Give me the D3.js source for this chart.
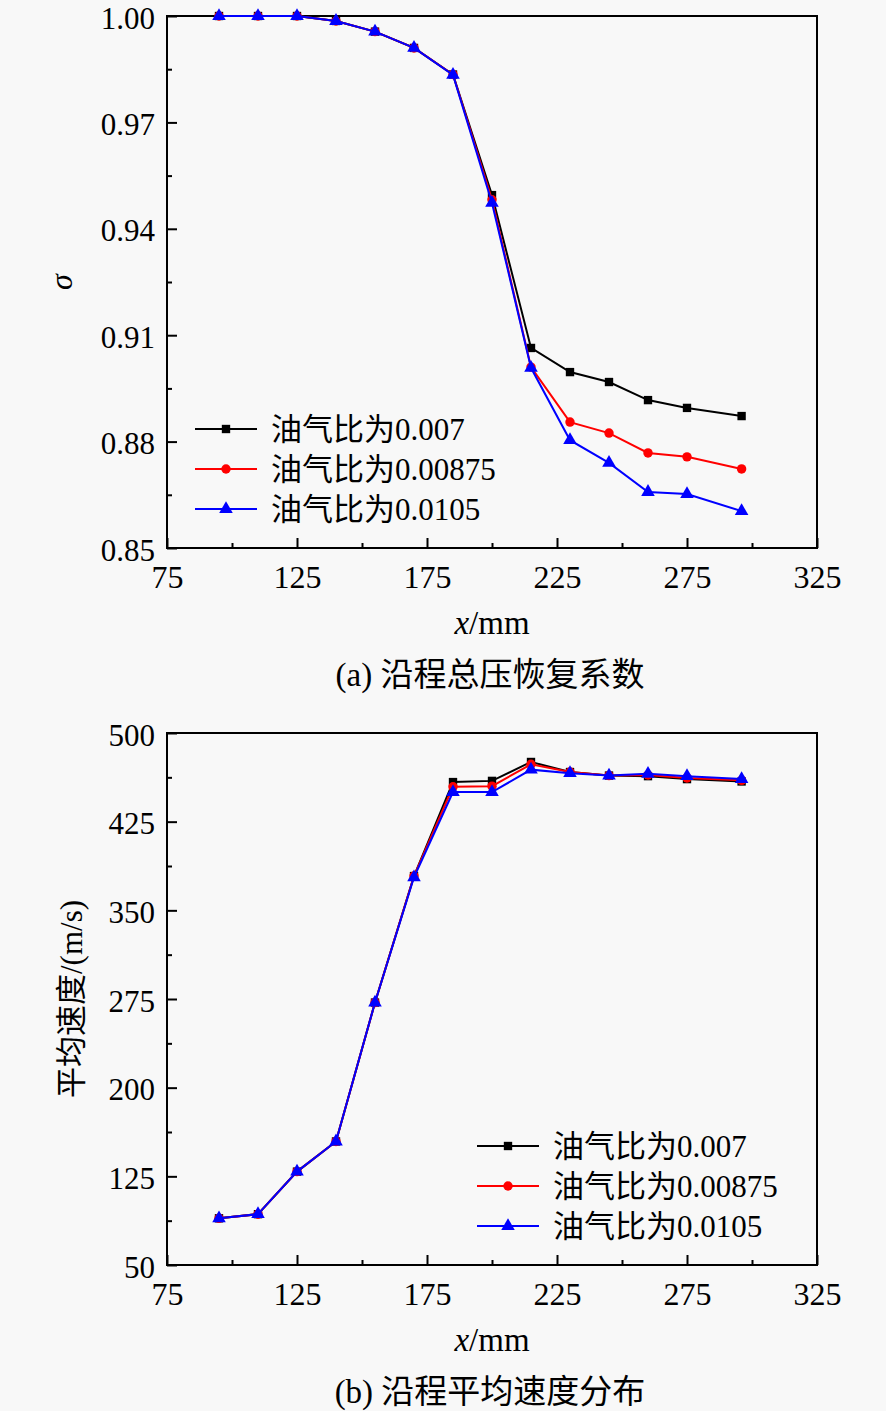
<!DOCTYPE html>
<html>
<head>
<meta charset="utf-8">
<script src="https://cdn.jsdelivr.net/npm/d3@7"></script>
<style>
  body { margin: 0; background: #f8f8f8; }
  svg { display: block; }
</style>
</head>
<body>
<div id="chart"></div>
<script>
// positions along the duct, mm
const xValues = [95, 110, 125, 140, 155, 170, 185, 200, 215, 230, 245, 260, 275, 296];

const seriesNames = ["油气比为0.007", "油气比为0.00875", "油气比为0.0105"];

// (a) total pressure recovery
const sigma007   = [1.0, 1.0, 1.0, 0.9986, 0.9956, 0.991, 0.9835, 0.9495, 0.9064, 0.8996, 0.8968, 0.8917, 0.8895, 0.8872];
const sigma00875 = [1.0, 1.0, 1.0, 0.9986, 0.9956, 0.991, 0.9835, 0.9482, 0.9010, 0.8855, 0.8824, 0.8768, 0.8757, 0.8723];
const sigma0105  = [1.0, 1.0, 1.0, 0.9986, 0.9956, 0.991, 0.9834, 0.9473, 0.9008, 0.8804, 0.8740, 0.8658, 0.8652, 0.8604];

// (b) mean velocity, m/s
const speed007   = [89.5, 93, 129, 154.5, 272, 379, 458.5, 459.5, 475.5, 467, 464, 463.5, 461, 459];
const speed00875 = [89.5, 93, 129, 154.5, 272, 379, 454.5, 455, 473.5, 467, 464, 464.5, 462, 460];
const speed0105  = [89.5, 93, 129, 154.5, 272, 378, 450, 450, 469, 466, 464, 465.5, 463.5, 461];

const xTicks = [75, 125, 175, 225, 275, 325];
const xMinor = [100, 150, 200, 250, 300];
const sigmaTicks = [0.85, 0.88, 0.91, 0.94, 0.97, 1.00];
const sigmaMinor = [0.865, 0.895, 0.925, 0.955, 0.985];
const speedTicks = [50, 125, 200, 275, 350, 425, 500];
const speedMinor = [87.5, 162.5, 237.5, 312.5, 387.5, 462.5];

const colors = ["#000000", "#ff0000", "#0000ff"];
const shapes = [d3.symbolSquare, d3.symbolCircle, d3.symbolTriangle];
const shapeSizes = [70, 70, 80];

const FONT = "'Liberation Serif', 'Times New Roman', 'Noto Sans CJK SC', serif";

const svg = d3.select("#chart").append("svg")
    .attr("width", 886)
    .attr("height", 1411)
    .style("font-family", FONT);

function drawPanel(cfg) {
    var left = 167, right = 817;
    var top = cfg.top, bottom = cfg.top + 532;

    var x = d3.scaleLinear().domain([75, 325]).range([left, right]);
    var y = d3.scaleLinear().domain(cfg.yDomain).range([bottom, top]);

    var g = svg.append("g");

    // inward ticks, bottom
    var xa = g.append("g")
        .attr("transform", "translate(0," + bottom + ")")
        .call(d3.axisBottom(x).tickValues(xTicks).tickSize(-10).tickFormat(d3.format("d")))
        .attr("font-family", null).attr("font-size", null);
    xa.select(".domain").remove();
    xa.selectAll("line").attr("stroke-width", 2);
    xa.selectAll("text").attr("y", 17).attr("dy", "0.71em")
        .style("font-family", FONT).style("font-size", "32px").attr("fill", "#000");

    var xm = g.append("g")
        .attr("transform", "translate(0," + bottom + ")")
        .call(d3.axisBottom(x).tickValues(xMinor).tickSize(-5).tickFormat(""));
    xm.select(".domain").remove();
    xm.selectAll("line").attr("stroke-width", 2);

    var ya = g.append("g")
        .attr("transform", "translate(" + left + ",0)")
        .call(d3.axisLeft(y).tickValues(cfg.yTicks).tickSize(-10).tickFormat(cfg.yFormat))
        .attr("font-family", null).attr("font-size", null);
    ya.select(".domain").remove();
    ya.selectAll("line").attr("stroke-width", 2);
    ya.selectAll("text").attr("x", -12).attr("dy", "0.39em")
        .style("font-family", FONT).style("font-size", "31px").attr("fill", "#000");

    var ym = g.append("g")
        .attr("transform", "translate(" + left + ",0)")
        .call(d3.axisLeft(y).tickValues(cfg.yMinor).tickSize(-5).tickFormat(""));
    ym.select(".domain").remove();
    ym.selectAll("line").attr("stroke-width", 2);

    // frame
    g.append("rect")
        .attr("x", left).attr("y", top)
        .attr("width", right - left).attr("height", bottom - top)
        .attr("fill", "none").attr("stroke", "#000").attr("stroke-width", 2);

    var line = d3.line()
        .x(function(d) { return x(d[0]) })
        .y(function(d) { return y(d[1]) });

    cfg.series.forEach(function(vals, i) {
        var pts = xValues.map(function(v, j) { return [v, vals[j]] });
        g.append("path")
            .datum(pts)
            .attr("d", line)
            .attr("fill", "none")
            .attr("stroke", colors[i])
            .attr("stroke-width", 2);
        g.selectAll(".m" + i)
            .data(pts)
            .enter().append("path")
            .attr("transform", function(d) { return "translate(" + x(d[0]) + "," + y(d[1]) + ")" })
            .attr("d", d3.symbol().type(shapes[i]).size(shapeSizes[i]))
            .attr("fill", colors[i]);
    });

    // legend
    var lg = g.selectAll(".lg")
        .data(seriesNames)
        .enter().append("g")
        .attr("transform", function(d, i) { return "translate(" + cfg.legX + "," + (cfg.legY + i * 40) + ")" });
    lg.append("line")
        .attr("x1", 0).attr("x2", 62)
        .attr("stroke", function(d, i) { return colors[i] })
        .attr("stroke-width", 2);
    lg.append("path")
        .attr("transform", "translate(31,0)")
        .attr("d", function(d, i) { return d3.symbol().type(shapes[i]).size(shapeSizes[i])() })
        .attr("fill", function(d, i) { return colors[i] });
    lg.append("text")
        .attr("x", 76)
        .attr("dy", "0.36em")
        .style("font-family", FONT)
        .style("font-size", "31px")
        .text(function(d) { return d });

    // axis titles
    var xt = g.append("text")
        .attr("x", (left + right) / 2)
        .attr("y", bottom + 86)
        .attr("text-anchor", "middle")
        .style("font-family", FONT)
        .style("font-size", "33px");
    xt.append("tspan").style("font-style", "italic").text("x");
    xt.append("tspan").text("/mm");

    g.append("text")
        .attr("transform", "translate(" + cfg.yTitleX + "," + ((top + bottom) / 2) + ") rotate(-90)")
        .attr("text-anchor", "middle")
        .style("font-family", FONT)
        .style("font-size", cfg.yTitleSize)
        .style("font-style", cfg.yTitleItalic ? "italic" : "normal")
        .text(cfg.yTitle);

    g.append("text")
        .attr("x", 490)
        .attr("y", bottom + 138)
        .attr("text-anchor", "middle")
        .style("font-family", FONT)
        .style("font-size", "33px")
        .text(cfg.caption);
}

drawPanel({
    top: 16,
    yDomain: [0.85, 1.00],
    yTicks: sigmaTicks,
    yMinor: sigmaMinor,
    yFormat: d3.format(".2f"),
    series: [sigma007, sigma00875, sigma0105],
    legX: 195, legY: 429,
    yTitle: "σ", yTitleX: 72, yTitleItalic: true, yTitleSize: "32px",
    caption: "(a) 沿程总压恢复系数"
});

drawPanel({
    top: 733,
    yDomain: [50, 500],
    yTicks: speedTicks,
    yMinor: speedMinor,
    yFormat: d3.format("d"),
    series: [speed007, speed00875, speed0105],
    legX: 477, legY: 1146,
    yTitle: "平均速度/(m/s)", yTitleX: 82, yTitleItalic: false, yTitleSize: "31px",
    caption: "(b) 沿程平均速度分布"
});
</script>
</body>
</html>
